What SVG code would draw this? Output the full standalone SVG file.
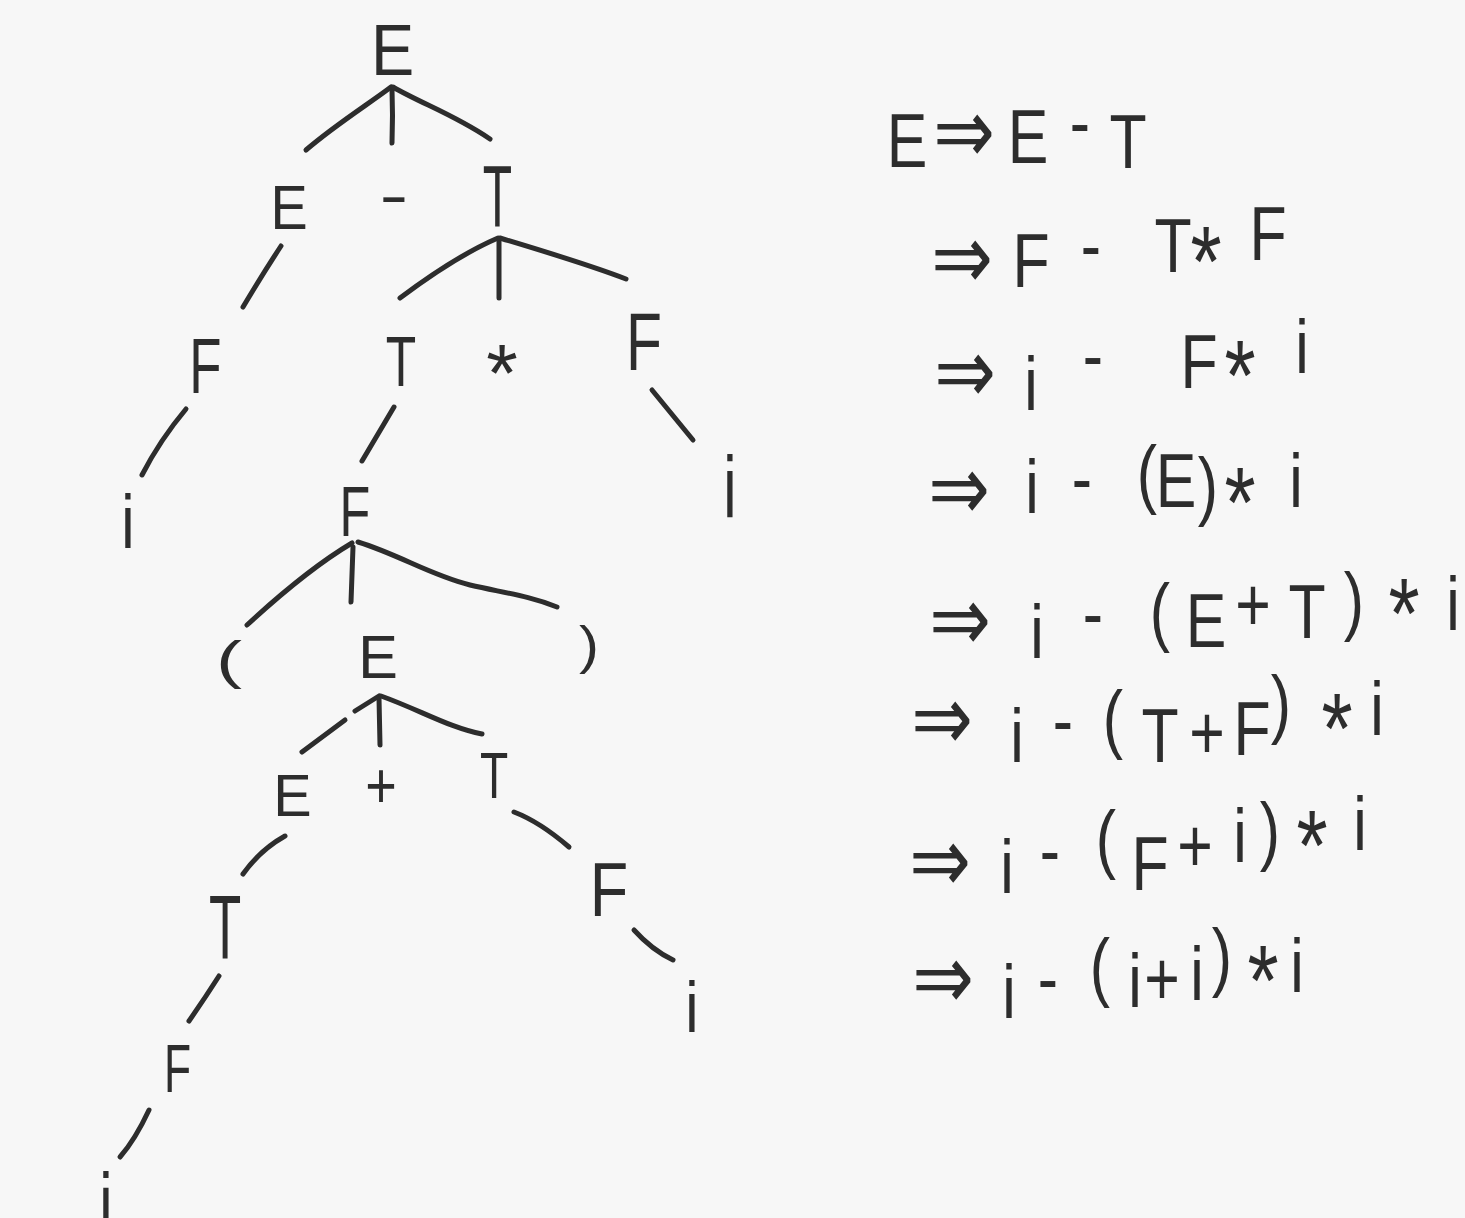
<svg xmlns="http://www.w3.org/2000/svg" width="1465" height="1218" viewBox="0 0 1465 1218">
<style>
.bg{fill:#f7f7f7}
.n{font-family:"Liberation Sans",Arial,sans-serif;font-size:60px;fill:#2d2d2d;text-anchor:middle}
.d{font-family:"Liberation Sans",Arial,sans-serif;font-size:76px;fill:#2d2d2d;text-anchor:middle}
.ar{font-family:"DejaVu Sans",sans-serif;font-size:92px}
.st{font-size:100px}
.c path{fill:none;stroke:#2d2d2d;stroke-width:5;stroke-linecap:round;stroke-linejoin:round}
</style>
<rect class="bg" x="0" y="0" width="1465" height="1218"/>
<g id="connectors" class="c">
<path d="M391,87 C370,103 335,125 306,150"/>
<path d="M392,89 Q393,115 392,143"/>
<path d="M393,87 C420,103 455,115 490,139"/>
<path d="M498,238 C470,250 440,268 400,298"/>
<path d="M499,241 L499,298"/>
<path d="M500,238 C540,250 590,265 626,279"/>
<path d="M281,246 Q262,275 243,307"/>
<path d="M186,409 Q160,440 142,475"/>
<path d="M394,407 L362,461"/>
<path d="M652,390 L693,440"/>
<path d="M352,543 C320,562 285,590 247,625"/>
<path d="M353,547 Q352,575 351,602"/>
<path d="M358,542 C400,555 430,575 470,585 C505,593 530,596 557,607"/>
<path d="M379,696 L355,711"/>
<path d="M345,720 Q325,735 302,752"/>
<path d="M379,698 L380,745"/>
<path d="M381,696 C420,710 450,728 482,734"/>
<path d="M285,836 Q260,850 243,874"/>
<path d="M514,812 Q540,822 569,847"/>
<path d="M219,976 Q205,998 189,1021"/>
<path d="M634,930 Q652,950 673,960"/>
<path d="M149,1110 Q135,1140 120,1157"/>
</g>
<g id="tree">
<g id="n-E0"><text class="n" transform="translate(392.5,75) scale(1.08,1.21)">E</text></g>
<g id="n-E1"><text class="n" transform="translate(289,229) scale(0.93,1.05)">E</text></g>
<g id="n-minus"><text class="n" transform="translate(394,215) scale(1.44,1)">-</text></g>
<g id="n-T1"><text class="n" transform="translate(497.5,226) scale(0.8,1.44)">T</text></g>
<g id="n-F1"><text class="n" transform="translate(205.5,393) scale(0.88,1.3)">F</text></g>
<g id="n-T2"><text class="n" transform="translate(401,386) scale(0.83,1.16)">T</text></g>
<g id="n-star"><text class="n" transform="translate(502,401) scale(1.35,1.35)">*</text></g>
<g id="n-F2"><text class="n" transform="translate(644,370) scale(0.98,1.35)">F</text></g>
<g id="n-i1"><text class="n" transform="translate(128,548) scale(1,1.28)">i</text></g>
<g id="n-F3"><text class="n" transform="translate(355,536) scale(0.84,1.16)">F</text></g>
<g id="n-i2"><text class="n" transform="translate(730,517) scale(1,1.44)">i</text></g>
<g id="n-lp"><text class="n" transform="translate(229,678) scale(1.3,0.875)">(</text></g>
<g id="n-E2"><text class="n" transform="translate(378,678) scale(0.99,1.02)">E</text></g>
<g id="n-rp"><text class="n" transform="translate(589,663) scale(1,0.875)">)</text></g>
<g id="n-E3"><text class="n" transform="translate(292.5,816) scale(0.96,0.98)">E</text></g>
<g id="n-plus"><text class="n" transform="translate(381,807.5) scale(0.9,1.08)">+</text></g>
<g id="n-T3"><text class="n" transform="translate(494,798) scale(0.77,1.07)">T</text></g>
<g id="n-T4"><text class="n" transform="translate(225,959) scale(0.88,1.51)">T</text></g>
<g id="n-F4"><text class="n" transform="translate(609,916) scale(1.05,1.28)">F</text></g>
<g id="n-F5"><text class="n" transform="translate(177.5,1092) scale(0.74,1.14)">F</text></g>
<g id="n-i3"><text class="n" transform="translate(692,1032) scale(1,1.19)">i</text></g>
<g id="n-i4"><text class="n" transform="translate(106,1232) scale(1,1.4)">i</text></g>
</g>
<g id="derivation" transform="scale(0.8,1)">
<text id="r1" class="d"><tspan x="1133.75" y="167">E</tspan><tspan class="ar" x="1205" y="163">⇒</tspan><tspan x="1285" y="163">E</tspan><tspan x="1350" y="148">-</tspan><tspan x="1410" y="168">T</tspan></text>
<text id="r2" class="d"><tspan class="ar" x="1202.5" y="289">⇒</tspan><tspan x="1288.75" y="287">F</tspan><tspan x="1363.75" y="271">-</tspan><tspan x="1466.25" y="272">T</tspan><tspan class="st" x="1507.5" y="296">*</tspan><tspan x="1585" y="260">F</tspan></text>
<text id="r3" class="d"><tspan class="ar" x="1206.25" y="403">⇒</tspan><tspan x="1288.75" y="410">i</tspan><tspan x="1366.25" y="381">-</tspan><tspan x="1498.75" y="388">F</tspan><tspan class="st" x="1550" y="410">*</tspan><tspan x="1627.5" y="373">i</tspan></text>
<text id="r4" class="d"><tspan class="ar" x="1198.75" y="520">⇒</tspan><tspan x="1290" y="513">i</tspan><tspan x="1352.5" y="504">-</tspan><tspan x="1433.75" y="499">(</tspan><tspan x="1470" y="507">E</tspan><tspan x="1510" y="511">)</tspan><tspan class="st" x="1550" y="537">*</tspan><tspan x="1620" y="507">i</tspan></text>
<text id="r5" class="d"><tspan class="ar" x="1200" y="651">⇒</tspan><tspan x="1296.25" y="658">i</tspan><tspan x="1366.25" y="639">-</tspan><tspan x="1450" y="637">(</tspan><tspan x="1507.5" y="647">E</tspan><tspan x="1566.25" y="631">+</tspan><tspan x="1633.75" y="638">T</tspan><tspan x="1692.5" y="626">)</tspan><tspan class="st" x="1755" y="648">*</tspan><tspan x="1816.25" y="630">i</tspan></text>
<text id="r6" class="d"><tspan class="ar" x="1177.5" y="750">⇒</tspan><tspan x="1271.25" y="762">i</tspan><tspan x="1328.75" y="746">-</tspan><tspan x="1391.25" y="744">(</tspan><tspan x="1450" y="762">T</tspan><tspan x="1508.75" y="759">+</tspan><tspan x="1565" y="755">F</tspan><tspan x="1601.25" y="729">)</tspan><tspan class="st" x="1671.25" y="763">*</tspan><tspan x="1721.25" y="735">i</tspan></text>
<text id="r7" class="d"><tspan class="ar" x="1175" y="892">⇒</tspan><tspan x="1258.75" y="893">i</tspan><tspan x="1312.5" y="876">-</tspan><tspan x="1382.5" y="864">(</tspan><tspan x="1437.5" y="890">F</tspan><tspan x="1493.75" y="872">+</tspan><tspan x="1550" y="862">i</tspan><tspan x="1587.5" y="856">)</tspan><tspan class="st" x="1640" y="880">*</tspan><tspan x="1700" y="850">i</tspan></text>
<text id="r8" class="d"><tspan class="ar" x="1178.75" y="1009">⇒</tspan><tspan x="1261.25" y="1018">i</tspan><tspan x="1310" y="1004">-</tspan><tspan x="1375" y="992">(</tspan><tspan x="1418.75" y="1007">i</tspan><tspan x="1452.5" y="1005">+</tspan><tspan x="1496.25" y="1000">i</tspan><tspan x="1527.5" y="982">)</tspan><tspan class="st" x="1578.75" y="1015">*</tspan><tspan x="1621.25" y="992">i</tspan></text>
</g>
</svg>
